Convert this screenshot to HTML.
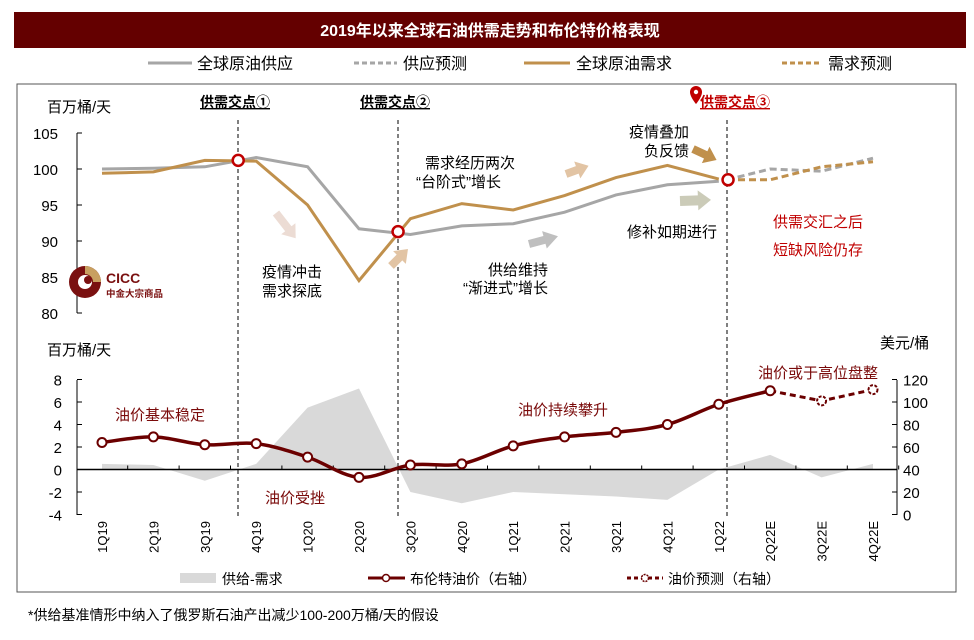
<!DOCTYPE html>
<html><head><meta charset="utf-8"><style>
html,body{margin:0;padding:0;background:#fff;}
body{width:974px;height:635px;overflow:hidden;font-family:"Liberation Sans","Noto Sans CJK SC",sans-serif;}
svg text{font-family:"Liberation Sans","Noto Sans CJK SC",sans-serif;}
</style></head><body>
<svg id="chart" width="974" height="635" viewBox="0 0 974 635" xmlns="http://www.w3.org/2000/svg">
<rect x="14" y="12" width="952" height="36" fill="#640000"/>
<text x="490" y="36" text-anchor="middle" fill="#fff" font-size="16" font-weight="bold">2019年以来全球石油供需走势和布伦特价格表现</text>
<g font-size="16" fill="#000">
<line x1="148" y1="63" x2="192" y2="63" stroke="#a6a6a6" stroke-width="3"/><text x="197" y="69">全球原油供应</text>
<line x1="354" y1="63" x2="397" y2="63" stroke="#a6a6a6" stroke-width="3" stroke-dasharray="5,3"/><text x="403" y="69">供应预测</text>
<line x1="524" y1="63" x2="570" y2="63" stroke="#c0904c" stroke-width="3"/><text x="576" y="69">全球原油需求</text>
<line x1="782" y1="63" x2="820" y2="63" stroke="#c0904c" stroke-width="3" stroke-dasharray="5,3"/><text x="828" y="69">需求预测</text>
</g>
<rect x="17" y="84" width="939" height="508" fill="none" stroke="#555" stroke-width="1"/>
<g id="topg"></g>
<g id="botg"></g>
<g font-size="15">
<text x="47" y="112" font-size="15">百万桶/天</text>
<text x="200" y="107" font-size="14" font-weight="bold" text-decoration="underline">供需交点①</text>
<text x="360" y="107" font-size="14" font-weight="bold" text-decoration="underline">供需交点②</text>
<path d="M690 92 a6 6 0 1 1 12 0 c0 5 -6 12 -6 12 c0 0 -6 -7 -6 -12z" fill="#c00000"/><circle cx="696" cy="92" r="2.2" fill="#fff"/>
<text x="700" y="107" font-size="14" font-weight="bold" fill="#c00000" text-decoration="underline">供需交点③</text>
<text x="262" y="277">疫情冲击</text><text x="262" y="296">需求探底</text>
<text x="425" y="168">需求经历两次</text><text x="416" y="187">“台阶式”增长</text>
<text x="548" y="275" text-anchor="end">供给维持</text><text x="548" y="293" text-anchor="end">“渐进式”增长</text>
<text x="689" y="137" text-anchor="end">疫情叠加</text><text x="689" y="156" text-anchor="end">负反馈</text>
<text x="627" y="237">修补如期进行</text>
<text x="773" y="227" fill="#c00000">供需交汇之后</text><text x="773" y="255" fill="#c00000">短缺风险仍存</text>
<text x="47" y="355" font-size="15">百万桶/天</text>
<text x="880" y="348" font-size="15">美元/桶</text>
<text x="115" y="420" fill="#7a0a0a">油价基本稳定</text>
<text x="265" y="503" fill="#7a0a0a">油价受挫</text>
<text x="518" y="415" fill="#7a0a0a">油价持续攀升</text>
<text x="758" y="378" fill="#7a0a0a">油价或于高位盘整</text>
</g>
<g>
<path d="M0 -4 L20 -4 L20 -9 L32 0 L20 9 L20 4 L0 4Z" fill="#ecdcd4" transform="translate(276,213) rotate(52)"/>
<path d="M0 -4 L12 -4 L12 -9 L24 0 L12 9 L12 4 L0 4Z" fill="#e2c4a4" transform="translate(391,266) rotate(-45)"/>
<path d="M0 -4 L12 -4 L12 -9 L24 0 L12 9 L12 4 L0 4Z" fill="#e2c4a4" transform="translate(566,174) rotate(-20)"/>
<path d="M0 -4 L16 -4 L16 -9 L30 0 L16 9 L16 4 L0 4Z" fill="#bfbfbf" transform="translate(529,244) rotate(-15)"/>
<path d="M0 -5 L18 -5 L18 -10 L31 0 L18 10 L18 5 L0 5Z" fill="#cbcbb8" transform="translate(680,201) rotate(-2)"/>
<path d="M0 -4 L14 -4 L14 -9 L26 0 L14 9 L14 4 L0 4Z" fill="#c0904c" transform="translate(693,149) rotate(25)"/>
</g>
<g>
<circle cx="85" cy="282" r="16" fill="#7a1010"/>
<path d="M85 266 A16 16 0 0 1 101 282 L93 282 A8 8 0 0 0 85 274Z" fill="#c8a060"/>
<circle cx="85" cy="282" r="7" fill="#fff"/><circle cx="88" cy="280" r="4" fill="#7a1010"/>
<text x="106" y="283" font-size="14" font-weight="bold" fill="#7a1010">CICC</text>
<text x="106" y="297" font-size="9.5" font-weight="bold" fill="#7a1010">中金大宗商品</text>
</g>
<g font-size="14">
<rect x="180" y="573" width="36" height="10" fill="#d9d9d9"/><text x="222" y="584">供给-需求</text>
<line x1="368" y1="578" x2="405" y2="578" stroke="#6b0000" stroke-width="3"/><circle cx="386" cy="578" r="3.5" fill="#fff" stroke="#6b0000" stroke-width="1.5"/><text x="410" y="584">布伦特油价（右轴）</text>
<line x1="627" y1="578" x2="663" y2="578" stroke="#6b0000" stroke-width="3" stroke-dasharray="4,3"/><circle cx="645" cy="578" r="3.5" fill="#fff" stroke="#6b0000" stroke-width="1.5" stroke-dasharray="2,1"/><text x="668" y="584">油价预测（右轴）</text>
</g>
<text x="28" y="620" font-size="14">*供给基准情形中纳入了俄罗斯石油产出减少100-200万桶/天的假设</text>
</svg>
<script>
const categories=["1Q19","2Q19","3Q19","4Q19","1Q20","2Q20","3Q20","4Q20","1Q21","2Q21","3Q21","4Q21","1Q22","2Q22E","3Q22E","4Q22E"];
const supplyActual=[100.0,100.1,100.3,101.6,100.3,91.7,90.9,92.1,92.4,94.0,96.4,97.8,98.3];
const demandActual=[99.4,99.6,101.2,101.1,95.0,84.5,93.1,95.2,94.3,96.3,98.8,100.5,98.6];
const supplyForecast=[98.5,100.0,99.7,101.5];
const demandForecast=[98.5,98.5,100.3,101.0];
const crossings=[[2.65,101.2],[5.76,91.3],[12.18,98.5]];
const gapValues=[0.5,0.4,-1.0,0.5,5.5,7.2,-2.0,-3.0,-2.0,-2.2,-2.4,-2.7,0,1.3,-0.7,0.5];
const priceActual=[64,69,62,63,51,33,44,45,61,69,73,80,98,110];
const priceForecast=[110,101,111];
const topTicks=[80,85,90,95,100,105];
const leftTicks=[-4,-2,0,2,4,6,8];
const rightTicks=[0,20,40,60,80,100,120];
const NS="http://www.w3.org/2000/svg";
const xs=i=>102+i*51.4;
const yTop=v=>133+(105-v)*7.2;
const yL=v=>469.5-v*11.25;
const yR=v=>514.5-v*1.125;
function mk(p,t,a){const e=document.createElementNS(NS,t);for(const k in a)e.setAttribute(k,a[k]);p.appendChild(e);return e;}
const topG=document.getElementById('topg'),botG=document.getElementById('botg');
let ax=mk(topG,'line',{x1:77,y1:133,x2:77,y2:313,stroke:'#000'});


topTicks.forEach(v=>{mk(topG,'line',{x1:77,x2:82,y1:yTop(v),y2:yTop(v),stroke:'#000'});
let t=mk(topG,'text',{x:58,y:yTop(v)+6,'text-anchor':'end','font-size':15});t.textContent=v;

});
[238,398,727].forEach(x=>{let l=mk(topG,'line',{x1:x,x2:x,y1:120,y2:516,stroke:'#000','stroke-dasharray':'4,3'});

});
function pl(arr,start,f){return arr.map((v,i)=>xs(i+start).toFixed(1)+','+f(v).toFixed(1)).join(' ');}
let s=mk(topG,'polyline',{points:pl(supplyActual,0,yTop),fill:'none',stroke:'#a6a6a6','stroke-width':3});


let d=mk(topG,'polyline',{points:pl(demandActual,0,yTop),fill:'none',stroke:'#c0904c','stroke-width':3});


function fpts(arr,f){return arr.map((v,i)=>{const x=i==0?727:xs(12+i);return x.toFixed(1)+','+f(v).toFixed(1);}).join(' ');}
let sf=mk(topG,'polyline',{points:fpts(supplyForecast,yTop),fill:'none',stroke:'#a6a6a6','stroke-width':3,'stroke-dasharray':'7,4'});


let df=mk(topG,'polyline',{points:fpts(demandForecast,yTop),fill:'none',stroke:'#c0904c','stroke-width':3,'stroke-dasharray':'7,4'});


crossings.forEach(c=>{let m=mk(topG,'circle',{cx:xs(c[0]),cy:yTop(c[1]),r:5.5,fill:'#fff',stroke:'#c00000','stroke-width':2.5});

});
let ap='M'+xs(0)+','+yL(0);gapValues.forEach((v,i)=>ap+=' L'+xs(i).toFixed(1)+','+yL(v).toFixed(1));ap+=' L'+xs(gapValues.length-1)+','+yL(0)+'Z';
let ar=mk(botG,'path',{d:ap,fill:'#d9d9d9'});


let la=mk(botG,'line',{x1:77,y1:380,x2:77,y2:515,stroke:'#000'});


let ra=mk(botG,'line',{x1:897,y1:380,x2:897,y2:515,stroke:'#000'});


let zl=mk(botG,'line',{x1:77,y1:yL(0),x2:897,y2:yL(0),stroke:'#000','stroke-width':1.5});


leftTicks.forEach(v=>{mk(botG,'line',{x1:77,x2:82,y1:yL(v),y2:yL(v),stroke:'#000'});
let t=mk(botG,'text',{x:62,y:yL(v)+6,'text-anchor':'end','font-size':15});t.textContent=v;

});
rightTicks.forEach(v=>{mk(botG,'line',{x1:892,x2:897,y1:yR(v),y2:yR(v),stroke:'#000'});
let t=mk(botG,'text',{x:903,y:yR(v)+6,'font-size':15});t.textContent=v;

});
categories.forEach((c,i)=>{mk(botG,'line',{x1:xs(i)+25.7,x2:xs(i)+25.7,y1:yL(0),y2:yL(0)-4,stroke:'#000'});
let t=mk(botG,'text',{x:0,y:0,'text-anchor':'end','font-size':13,transform:`translate(${xs(i)+5},${521}) rotate(-90)`});t.textContent=c;

});
function smooth(pts){let d='M'+pts[0][0]+','+pts[0][1];for(let i=0;i<pts.length-1;i++){const p0=pts[i-1]||pts[i],p1=pts[i],p2=pts[i+1],p3=pts[i+2]||p2;const k=6;d+=` C${p1[0]+(p2[0]-p0[0])/k},${p1[1]+(p2[1]-p0[1])/k} ${p2[0]-(p3[0]-p1[0])/k},${p2[1]-(p3[1]-p1[1])/k} ${p2[0]},${p2[1]}`;}return d;}
const pa=priceActual.map((v,i)=>[xs(i),yR(v)]);
let pLine=mk(botG,'path',{d:smooth(pa),fill:'none',stroke:'#6b0000','stroke-width':3.5});


const pf=priceForecast.map((v,i)=>[xs(13+i),yR(v)]);
let fLine=mk(botG,'path',{d:'M'+pf.map(p=>p.join(',')).join(' L'),fill:'none',stroke:'#6b0000','stroke-width':3,'stroke-dasharray':'6,4'});


pa.forEach(p=>{let c=mk(botG,'circle',{cx:p[0],cy:p[1],r:4.5,fill:'#fff',stroke:'#6b0000','stroke-width':2});

});
pf.slice(1).forEach(p=>{let c=mk(botG,'circle',{cx:p[0],cy:p[1],r:4.5,fill:'#fff',stroke:'#6b0000','stroke-width':2,'stroke-dasharray':'3,1.5'});

});
</script>
</body></html>
